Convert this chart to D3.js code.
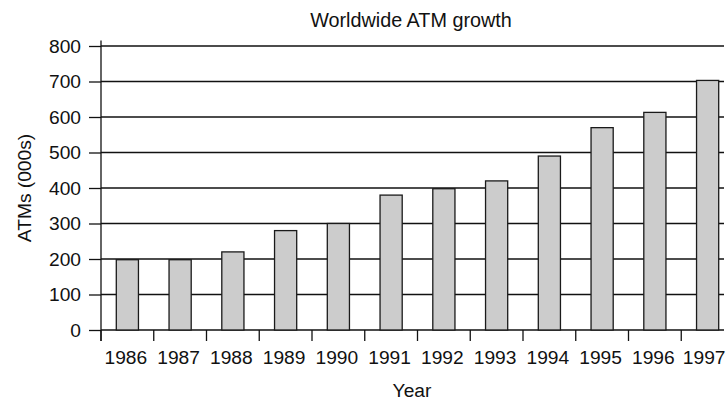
<!DOCTYPE html>
<html>
<head>
<meta charset="utf-8">
<script src="https://cdn.jsdelivr.net/npm/d3@7"></script>
<style>
  html, body { margin: 0; padding: 0; background: #fff; }
  svg { display: block; font-family: "Liberation Sans", Arial, Helvetica, sans-serif; }
</style>
</head>
<body>
<svg id="chart" width="727" height="403"></svg>
<script>
// Worldwide ATM installations, thousands
const years = ["1986", "1987", "1988", "1989", "1990", "1991", "1992", "1993", "1994", "1995", "1996", "1997"];
const atms = [198, 198, 220, 280, 300, 380, 398, 420, 490, 570, 613, 703];
const yTicks = [0, 100, 200, 300, 400, 500, 600, 700, 800];

(function drawChart() {
  const svg = d3.select("#chart");
  const width = 727;
  const plotLeft = 101, plotBottom = 330, plotTop = 46, gridRight = 724;
  const step = 52.75;

  const x = d3.scaleBand()
    .domain(years)
    .range([plotLeft, plotLeft + step * years.length])
    .paddingInner(0.58)
    .paddingOuter(0.29);

  const y = d3.scaleLinear().domain([0, 800]).range([plotBottom, plotTop]);

  const fontSize = 19.2;
  const ink = "#111";

  // horizontal gridlines
  svg.append("g")
    .selectAll("line")
    .data(yTicks)
    .join("line")
    .attr("x1", plotLeft).attr("x2", gridRight)
    .attr("y1", d => y(d)).attr("y2", d => y(d))
    .attr("stroke", ink).attr("stroke-width", 1.3);

  // y axis
  const yAxis = svg.append("g")
    .attr("transform", `translate(${plotLeft},0)`)
    .call(d3.axisLeft(y).tickValues(yTicks).tickSize(12).tickPadding(8).tickSizeOuter(0));
  yAxis.select(".domain").remove();
  yAxis.selectAll(".tick line").attr("stroke", ink).attr("stroke-width", 1.3);
  yAxis.selectAll(".tick text")
    .attr("fill", ink).attr("font-size", fontSize)
    .attr("font-family", "Liberation Sans, Arial, sans-serif");
  svg.append("line")
    .attr("x1", plotLeft).attr("x2", plotLeft)
    .attr("y1", plotTop - 5.5).attr("y2", plotBottom + 11)
    .attr("stroke", ink).attr("stroke-width", 1.3);

  // bars
  svg.append("g")
    .selectAll("rect")
    .data(years.map((yr, i) => ({ yr, v: atms[i] })))
    .join("rect")
    .attr("x", d => x(d.yr))
    .attr("width", x.bandwidth())
    .attr("y", d => y(d.v))
    .attr("height", d => y(0) - y(d.v))
    .attr("fill", "#cccccc")
    .attr("stroke", "#1a1a1a")
    .attr("stroke-width", 1.3);

  // x axis: ticks at band boundaries, labels at band centres
  const boundaries = years.map((yr, i) => x.range()[0] + x.step() * i);
  svg.append("g")
    .selectAll("line")
    .data(boundaries)
    .join("line")
    .attr("x1", d => d).attr("x2", d => d)
    .attr("y1", plotBottom).attr("y2", plotBottom + 11)
    .attr("stroke", ink).attr("stroke-width", 1.3);

  svg.append("g")
    .selectAll("text")
    .data(years)
    .join("text")
    .attr("y", 364)
    .attr("text-anchor", "middle")
    .attr("font-size", fontSize)
    .attr("fill", ink)
    .text(d => d)
    .attr("x", function (d) {
      // keep the last label inside the canvas
      const half = this.getComputedTextLength() / 2;
      return Math.min(x(d) + x.bandwidth() / 2 - 1.5, width - 1.5 - half);
    });

  // titles
  svg.append("text")
    .attr("x", 411).attr("y", 26.5)
    .attr("text-anchor", "middle")
    .attr("font-size", 19.8)
    .attr("fill", ink)
    .text("Worldwide ATM growth");

  svg.append("text")
    .attr("x", 412).attr("y", 397)
    .attr("text-anchor", "middle")
    .attr("font-size", fontSize)
    .attr("fill", ink)
    .text("Year");

  svg.append("text")
    .attr("transform", `translate(31,${(plotTop + plotBottom) / 2}) rotate(-90)`)
    .attr("text-anchor", "middle")
    .attr("font-size", fontSize)
    .attr("fill", ink)
    .text("ATMs (000s)");
})();
</script>
</body>
</html>
